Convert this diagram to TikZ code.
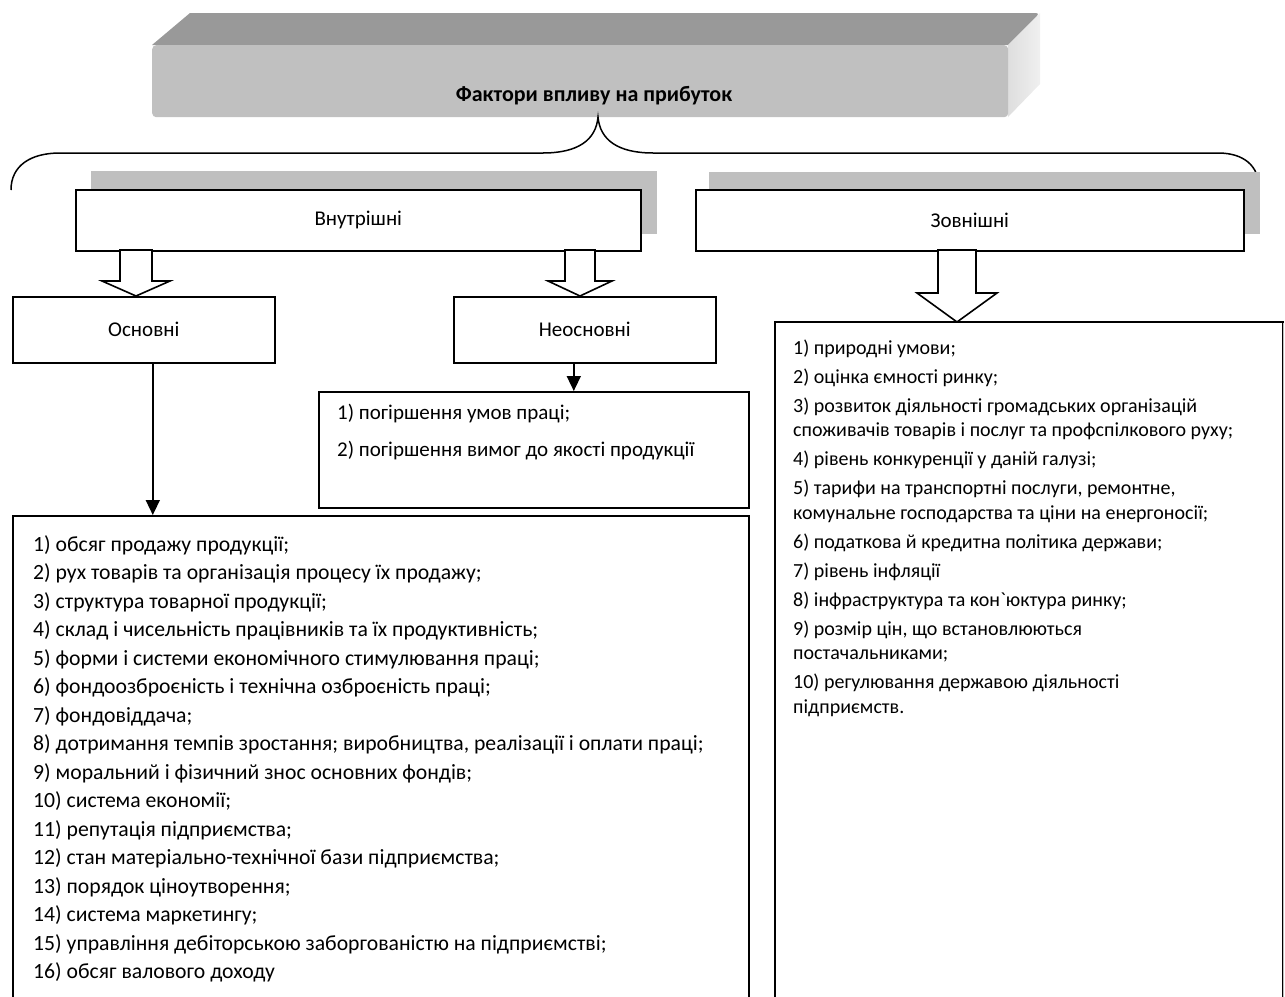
\documentclass[tikz,border=0pt]{standalone}
\usepackage{fontspec}
\setmainfont{Carlito}[Ligatures=TeXOff]
\usetikzlibrary{arrows.meta}
\definecolor{bantop}{HTML}{999999}
\definecolor{banfront}{HTML}{C0C0C0}
\definecolor{banside}{HTML}{DEDEDE}
\definecolor{shadowgray}{HTML}{BFBFBF}
\newcommand\hollowarr[5]{%
  \draw[hollow] (#1) ++(-#2,0) -- ++(0,#3) -- ++({-#4+#2},0) -- ++(#4,#5) -- ++(#4,-#5) -- ++({-#4+#2},0) -- ++(0,-#3) -- cycle;}
\begin{document}
\begin{tikzpicture}[x=1pt,y=-1pt,
  box/.style={draw=black, line width=1.6pt, fill=white, inner sep=0pt, anchor=north west,
    font=\fontsize{21}{25}\selectfont},
  item/.style={anchor=base west, inner sep=0pt, font=\fontsize{21}{25}\selectfont},
  litem/.style={anchor=base west, inner sep=0pt, font=\fontsize{21.7}{25}\selectfont},
  ritem/.style={anchor=base west, inner sep=0pt, font=\fontsize{20}{24}\selectfont},
  thinarr/.style={line width=1.6pt, -{Triangle[length=15pt,width=14pt]}},
  hollow/.style={draw=black, line width=1.6pt, fill=white, line join=miter},
  bracestyle/.style={line width=1.5pt}]
\useasboundingbox (0,0) rectangle (1285,996);
% banner
\fill[bantop] (152,45) -- (190,13) [rounded corners=4pt] -- (1040,13) [sharp corners] -- (1008,45) -- cycle;
\shade[left color=banside, right color=gray!12] (1008,45) -- (1040,13) -- (1040,84) -- (1008,117) -- cycle;
\node[fill=banfront, rounded corners=4pt, minimum width=856pt, minimum height=72pt,
  anchor=north west, inner sep=0pt] (ban) at (152,45) {};
\node[font=\bfseries\fontsize{22}{26}\selectfont, anchor=base, inner sep=0pt] (bantext) at (594,101) {Фактори впливу на прибуток};
% brace
\coordinate (bl) at (11,190);
\coordinate (bt) at (598,117);
\coordinate (br) at (1259,188);
\draw[bracestyle] (bl) .. controls (11,166) and (30,153) .. (60,153) -- (543,153)
  .. controls (578,153) and (596,140) .. (bt)
  .. controls (600,140) and (618,153) .. (653,153) -- (1218,153)
  .. controls (1244,153) and (1259,166) .. (br);
% level 2
\fill[shadowgray] (91,171) rectangle (657,234);
\node[box, minimum width=565pt, minimum height=61pt] (vn) at (75,189) {Внутрішні};
\fill[shadowgray] (709,172) rectangle (1260,234);
\node[box, minimum width=548pt, minimum height=61pt] (zv) at (695,189) {Зовнішні};
% level 3
\node[box, minimum width=262pt, minimum height=66pt] (os) at (12,296) {Основні};
\node[box, minimum width=262pt, minimum height=66pt] (ne) at (453,296) {Неосновні};
\node[box, minimum width=430pt, minimum height=116pt] (nl) at (318,391) {};
\node[box, minimum width=736pt, minimum height=500pt] (ol) at (12,515) {};
\draw[line width=1.6pt, fill=white] (1283,1010) -- (1283,322) -- (775,322) -- (775,1010);
\draw[line width=1pt, draw=gray!50] (1283,323) -- (1283,1010);
\coordinate (zl) at (775,322);
% hollow arrows
\coordinate (h1) at (136,250);
\coordinate (h2) at (580,250);
\coordinate (h3) at (957,250);
\hollowarr{h1}{16}{31}{34}{15}
\hollowarr{h2}{15}{31}{32}{15}
\hollowarr{h3}{19}{43}{40}{29}
% thin arrows
\draw[thinarr] ([xshift=9pt]os.south) -- ([xshift=9pt]os.south |- ol.north);
\draw[thinarr] ([xshift=-11pt]ne.south) -- ([xshift=-11pt]ne.south |- nl.north);
% texts
\node[item] (n1) at (337,419) {1) погіршення умов праці;};
\node[item] (n2) at (337,456) {2) погіршення вимог до якості продукції};
\foreach \t [count=\i] in {
  {1) обсяг продажу продукції;},
  {2) рух товарів та організація процесу їх продажу;},
  {3) структура товарної продукції;},
  {4) склад і чисельність працівників та їх продуктивність;},
  {5) форми і системи економічного стимулювання праці;},
  {6) фондоозброєність і технічна озброєність праці;},
  {7) фондовіддача;},
  {8) дотримання темпів зростання; виробництва, реалізації і оплати праці;},
  {9) моральний і фізичний знос основних фондів;},
  {10) система економії;},
  {11) репутація підприємства;},
  {12) стан матеріально-технічної бази підприємства;},
  {13) порядок ціноутворення;},
  {14) система маркетингу;},
  {15) управління дебіторською заборгованістю на підприємстві;},
  {16) обсяг валового доходу}}
  \node[litem] (L\i) at (33,{551+(\i-1)*28.5}) {\t};
\foreach \t/\yy [count=\i] in {
  {1) природні умови;}/348,
  {2) оцінка ємності ринку;}/377,
  {3) розвиток діяльності громадських організацій}/406,
  {споживачів товарів і послуг та профспілкового руху;}/430.5,
  {4) рівень конкуренції у даній галузі;}/459.5,
  {5) тарифи на транспортні послуги, ремонтне,}/488.5,
  {комунальне господарства та ціни на енергоносії;}/513,
  {6) податкова й кредитна політика держави;}/542,
  {7) рівень інфляції}/571,
  {8) інфраструктура та кон`юктура ринку;}/600,
  {9) розмір цін, що встановлюються}/629,
  {постачальниками;}/653.5,
  {10) регулювання державою діяльності}/682.5,
  {підприємств.}/707}
  \node[ritem] (R\i) at (793,{\yy+6}) {\t};
\end{tikzpicture}
\end{document}
